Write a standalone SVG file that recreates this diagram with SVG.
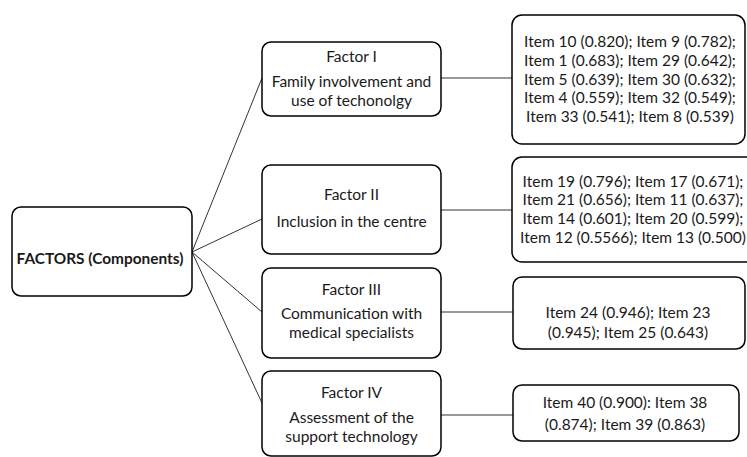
<svg xmlns="http://www.w3.org/2000/svg" width="747" height="457" viewBox="0 0 747 457">
<style>
.box{fill:#fff;stroke:#000;stroke-width:1.5}
.t{font-family:Lato,"Open Sans","Liberation Sans",sans-serif;font-size:15.5px;fill:#1a1a1a;text-anchor:middle}
.i{font-size:15.5px}
.b{font-weight:bold;font-size:15.4px}
.c{stroke:#333;stroke-width:1;fill:none}
</style>
<rect width="747" height="457" fill="#fff"/>
<g id="connectors">
<line class="c" x1="192" y1="252" x2="262" y2="78"/>
<line class="c" x1="192" y1="252" x2="262" y2="219"/>
<line class="c" x1="192" y1="252" x2="262" y2="312"/>
<line class="c" x1="192" y1="252" x2="262" y2="403"/>
<line class="c" x1="441" y1="78" x2="512" y2="78"/>
<line class="c" x1="441" y1="210" x2="512" y2="210"/>
<line class="c" x1="441" y1="312" x2="513" y2="312"/>
<line class="c" x1="441" y1="415" x2="513" y2="415"/>
</g>
<g id="root">
<rect class="box" x="12" y="207" width="180" height="89" rx="9"/>
<text class="t b" x="100" y="264">FACTORS (Components)</text>
</g>
<g id="f1">
<rect class="box" x="262" y="42" width="179" height="74" rx="9"/>
<text class="t" x="351.5" y="62">Factor I</text>
<text class="t" x="351.5" y="87">Family involvement and</text>
<text class="t" x="351.5" y="106">use of techonolgy</text>
</g>
<g id="f2">
<rect class="box" x="262" y="165" width="179" height="89" rx="9"/>
<text class="t" x="351.5" y="200">Factor II</text>
<text class="t" x="351.5" y="227">Inclusion in the centre</text>
</g>
<g id="f3">
<rect class="box" x="262" y="268" width="179" height="90" rx="9"/>
<text class="t" x="351.5" y="295">Factor III</text>
<text class="t" x="351.5" y="319">Communication with</text>
<text class="t" x="351.5" y="338">medical specialists</text>
</g>
<g id="f4">
<rect class="box" x="262" y="371" width="179" height="85" rx="9"/>
<text class="t" x="351.5" y="398">Factor IV</text>
<text class="t" x="351.5" y="423">Assessment of the</text>
<text class="t" x="351.5" y="442">support technology</text>
</g>
<g id="i1">
<rect class="box" x="512" y="15" width="233" height="129" rx="10"/>
<text class="t i" x="630" y="47">Item 10 (0.820); Item 9 (0.782);</text>
<text class="t i" x="630" y="66">Item 1  (0.683); Item 29 (0.642);</text>
<text class="t i" x="630" y="85">Item 5 (0.639); Item 30 (0.632);</text>
<text class="t i" x="630" y="103">Item 4 (0.559); Item 32 (0.549);</text>
<text class="t i" x="630" y="122">Item 33 (0.541); Item 8 (0.539)</text>
</g>
<g id="i2">
<rect class="box" x="512" y="157" width="245" height="105" rx="10"/>
<text class="t i" x="633" y="187">Item 19 (0.796); Item 17 (0.671);</text>
<text class="t i" x="633" y="205">Item 21 (0.656); Item 11 (0.637);</text>
<text class="t i" x="633" y="224">Item 14 (0.601); Item 20 (0.599);</text>
<text class="t i" x="633" y="243">Item 12 (0.5566); Item 13 (0.500)</text>
</g>
<g id="i3">
<rect class="box" x="513" y="277" width="232" height="72" rx="9"/>
<text class="t i" x="628" y="318">Item 24 (0.946); Item 23</text>
<text class="t i" x="628" y="338">(0.945); Item 25 (0.643)</text>
</g>
<g id="i4">
<rect class="box" x="513" y="385" width="226" height="56" rx="9"/>
<text class="t i" x="625" y="408">Item 40 (0.900): Item 38</text>
<text class="t i" x="625" y="430">(0.874); Item 39 (0.863)</text>
</g>
</svg>
